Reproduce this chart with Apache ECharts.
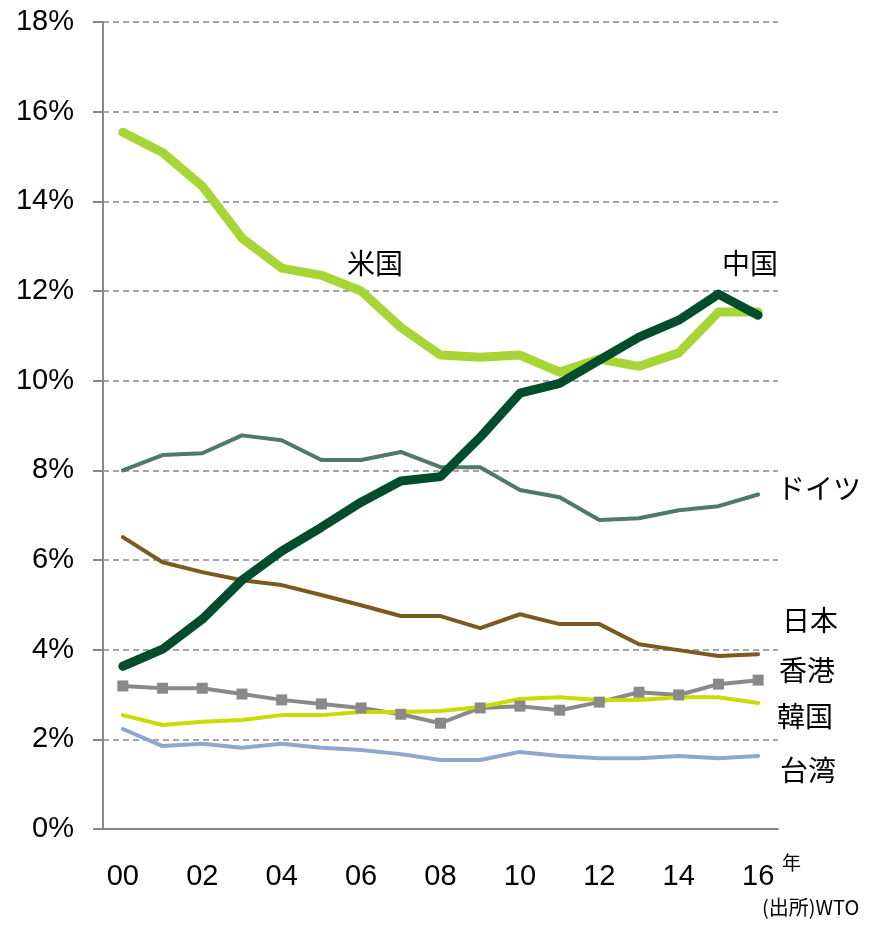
<!DOCTYPE html>
<html>
<head>
<meta charset="utf-8">
<script src="https://cdn.jsdelivr.net/npm/echarts@6/dist/echarts.min.js"></script>
<style>
  html, body { margin: 0; padding: 0; background: #fff; }
  #chart { width: 874px; height: 925px; }
</style>
</head>
<body>
<div id="chart"></div>
<script>
const years = ['00','01','02','03','04','05','06','07','08','09','10','11','12','13','14','15','16'];
const usa     = [15.54, 15.09, 14.34, 13.18, 12.51, 12.35, 12.0, 11.19, 10.57, 10.52, 10.57, 10.19, 10.48, 10.32, 10.62, 11.53, 11.53];
const china   = [3.63, 4.01, 4.68, 5.55, 6.2, 6.73, 7.29, 7.76, 7.86, 8.74, 9.72, 9.94, 10.46, 10.97, 11.35, 11.93, 11.46];
const germany = [8.0, 8.34, 8.38, 8.78, 8.67, 8.23, 8.23, 8.41, 8.07, 8.07, 7.56, 7.4, 6.89, 6.93, 7.11, 7.2, 7.46];
const japan   = [6.51, 5.95, 5.73, 5.55, 5.44, 5.22, 4.99, 4.75, 4.75, 4.48, 4.79, 4.57, 4.57, 4.12, 3.99, 3.86, 3.9];
const hongkong= [3.19, 3.14, 3.14, 3.01, 2.88, 2.79, 2.7, 2.56, 2.36, 2.7, 2.74, 2.65, 2.83, 3.05, 2.99, 3.23, 3.32];
const korea   = [2.54, 2.32, 2.39, 2.43, 2.54, 2.54, 2.61, 2.61, 2.63, 2.72, 2.9, 2.94, 2.88, 2.88, 2.94, 2.94, 2.81];
const taiwan  = [2.23, 1.85, 1.9, 1.81, 1.9, 1.81, 1.76, 1.67, 1.54, 1.54, 1.72, 1.63, 1.58, 1.58, 1.63, 1.58, 1.63];

const chart = echarts.init(document.getElementById('chart'));
const numFont = '"Liberation Sans", Arial, sans-serif';
const jpFont = '"Noto Sans CJK JP", sans-serif';

function line(name, data, color, width, extra) {
    return Object.assign({
        name: name,
        type: 'line',
        data: data,
        symbol: 'none',
        silent: true,
        lineStyle: { color: color, width: width, cap: 'round', join: 'round' },
        itemStyle: { color: color }
    }, extra || {});
}

function label(text, x, y, size) {
    return {
        type: 'text',
        left: x,
        top: y,
        style: { text: text, fill: '#000', font: (size || 28) + 'px ' + jpFont }
    };
}

chart.setOption({
    animation: false,
    grid: { left: 103, right: 96, top: 22, bottom: 96 },
    xAxis: {
        type: 'category',
        data: years,
        boundaryGap: true,
        axisLine: { lineStyle: { color: '#888', width: 2 } },
        axisTick: { interval: 1, length: 9, lineStyle: { color: '#888', width: 2 } },
        axisLabel: { interval: 1, color: '#000', fontSize: 29, fontFamily: numFont, margin: 33 },
        splitLine: { show: false }
    },
    yAxis: {
        type: 'value',
        min: 0,
        max: 18,
        interval: 2,
        axisLine: { show: true, lineStyle: { color: '#888', width: 2 } },
        axisTick: { show: true, inside: false, length: 10, lineStyle: { color: '#888', width: 2 } },
        axisLabel: { color: '#000', fontSize: 29, fontFamily: numFont, margin: 29, formatter: '{value}%' },
        splitLine: { show: true, lineStyle: { color: '#888', width: 1.5, type: [6, 4] } }
    },
    series: [
        line('台湾', taiwan, '#8EA7CE', 4),
        line('香港', hongkong, '#898989', 4, { symbol: 'rect', symbolSize: 11, showSymbol: true }),
        line('韓国', korea, '#C9DC00', 4),
        line('日本', japan, '#7B5A22', 4),
        line('ドイツ', germany, '#4E7A66', 4),
        line('米国', usa, '#A6D535', 9),
        line('中国', china, '#004D2E', 9)
    ],
    graphic: [
        label('米国', 347, 249),
        label('中国', 722, 249),
        label('ドイツ', 777, 474),
        label('日本', 782, 606),
        label('香港', 779, 656),
        label('韓国', 777, 702),
        label('台湾', 780, 756),
        label('年', 782, 853, 19),
        label('(出所)WTO', 762, 897, 20)
    ]
});
</script>
</body>
</html>
